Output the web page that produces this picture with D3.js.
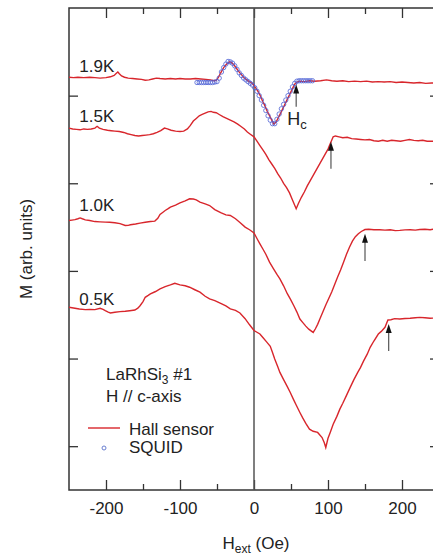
<!DOCTYPE html>
<html>
<head>
<meta charset="utf-8">
<script src="https://cdn.jsdelivr.net/npm/d3@7"></script>
<style>
  body { margin: 0; background: #fff; }
  svg text { font-family: "Liberation Sans", Arial, sans-serif; fill: #222; }
</style>
</head>
<body>
<svg id="chart" width="433" height="556"></svg>
<script>
// Hall sensor curves, [H (Oe), M (arb.)]
const hall19 = [[-250,5.21],[-244,5.205],[-238,5.21],[-230,5.205],[-222,5.21],[-215,5.205],[-208,5.2],[-200,5.205],[-194,5.215],[-189,5.23],[-186,5.255],[-184,5.27],[-182,5.25],[-179,5.225],[-175,5.21],[-170,5.2],[-164,5.195],[-158,5.19],[-152,5.185],[-147,5.175],[-142,5.18],[-137,5.19],[-132,5.2],[-127,5.195],[-120,5.19],[-113,5.195],[-106,5.19],[-100,5.195],[-93,5.19],[-86,5.19],[-79,5.195],[-72,5.19],[-65,5.185],[-59,5.18],[-54,5.17],[-51,5.175],[-48,5.21],[-45,5.26],[-41,5.32],[-37,5.36],[-33,5.385],[-30,5.375],[-27,5.35],[-24,5.315],[-21,5.28],[-17,5.24],[-13,5.2],[-9,5.175],[-5,5.155],[-2,5.135],[0,5.115],[3,5.08],[6,5.04],[9,4.99],[12,4.93],[15,4.88],[18,4.82],[21,4.77],[24,4.72],[27,4.675],[30,4.7],[33,4.75],[36,4.8],[40,4.87],[44,4.94],[48,5.01],[52,5.08],[55,5.13],[58,5.155],[62,5.165],[68,5.16],[75,5.17],[82,5.165],[90,5.17],[98,5.18],[105,5.17],[112,5.165],[120,5.17],[128,5.16],[136,5.165],[144,5.16],[152,5.165],[160,5.155],[168,5.16],[176,5.155],[184,5.16],[192,5.15],[200,5.155],[208,5.15],[216,5.145],[224,5.15],[232,5.14],[240,5.145],[250,5.14]];

const hall15 = [[-250,4.63],[-245,4.62],[-240,4.615],[-235,4.61],[-230,4.62],[-225,4.615],[-220,4.62],[-215,4.63],[-212,4.65],[-209,4.63],[-204,4.615],[-198,4.605],[-193,4.6],[-188,4.595],[-182,4.59],[-176,4.58],[-171,4.565],[-166,4.555],[-161,4.545],[-156,4.54],[-151,4.545],[-146,4.55],[-141,4.555],[-136,4.565],[-131,4.58],[-126,4.6],[-121,4.63],[-117,4.62],[-112,4.605],[-106,4.595],[-100,4.59],[-95,4.595],[-90,4.62],[-86,4.66],[-82,4.71],[-78,4.74],[-74,4.77],[-70,4.785],[-66,4.8],[-62,4.815],[-58,4.82],[-55,4.81],[-51,4.805],[-47,4.785],[-42,4.76],[-37,4.74],[-32,4.72],[-27,4.7],[-22,4.675],[-18,4.65],[-13,4.62],[-9,4.585],[-5,4.56],[0,4.53],[4,4.48],[8,4.43],[12,4.38],[16,4.33],[20,4.27],[24,4.22],[28,4.17],[32,4.11],[36,4.06],[40,4.0],[44,3.95],[48,3.89],[52,3.81],[55,3.75],[57,3.71],[60,3.77],[64,3.84],[68,3.9],[72,3.97],[76,4.03],[80,4.09],[84,4.15],[88,4.21],[92,4.27],[96,4.33],[100,4.39],[104,4.47],[107,4.53],[110,4.54],[115,4.53],[120,4.52],[126,4.525],[132,4.51],[138,4.505],[144,4.5],[150,4.495],[156,4.5],[162,4.485],[168,4.48],[174,4.49],[180,4.48],[186,4.49],[192,4.485],[198,4.48],[204,4.49],[210,4.5],[216,4.49],[222,4.485],[228,4.49],[234,4.48],[240,4.48],[250,4.475]];

const hall10 = [[-250,3.575],[-246,3.58],[-242,3.585],[-238,3.595],[-235,3.605],[-232,3.595],[-228,3.583],[-222,3.575],[-215,3.563],[-208,3.56],[-201,3.557],[-195,3.555],[-188,3.549],[-181,3.54],[-174,3.518],[-170,3.52],[-167,3.526],[-160,3.535],[-154,3.545],[-147,3.555],[-140,3.563],[-134,3.568],[-130,3.6],[-127,3.645],[-123,3.67],[-120,3.689],[-116,3.71],[-113,3.728],[-106,3.75],[-100,3.777],[-93,3.8],[-87,3.823],[-82,3.82],[-78,3.81],[-73,3.785],[-66,3.765],[-60,3.746],[-53,3.7],[-45,3.665],[-38,3.64],[-32,3.632],[-25,3.595],[-19,3.553],[-12,3.5],[-6,3.47],[0,3.434],[4,3.37],[8,3.309],[12,3.25],[16,3.19],[21,3.1],[26,3.03],[31,2.96],[35,2.909],[40,2.83],[45,2.74],[49,2.68],[54,2.6],[58,2.53],[62,2.451],[66,2.41],[70,2.37],[74,2.335],[78,2.31],[80,2.298],[83,2.34],[86,2.39],[89,2.451],[93,2.53],[97,2.61],[101,2.685],[105,2.76],[109,2.845],[113,2.93],[117,3.01],[121,3.1],[125,3.19],[129,3.27],[133,3.34],[137,3.39],[141,3.425],[145,3.45],[150,3.472],[155,3.475],[162,3.47],[170,3.469],[177,3.465],[184,3.47],[191,3.46],[197,3.462],[204,3.468],[211,3.47],[218,3.465],[224,3.472],[231,3.475],[238,3.47],[245,3.48],[250,3.475]];

const hall05 = [[-250,2.585],[-246,2.58],[-242,2.574],[-236,2.565],[-228,2.558],[-222,2.56],[-215,2.558],[-208,2.574],[-204,2.56],[-201,2.546],[-197,2.53],[-194,2.52],[-188,2.528],[-181,2.535],[-174,2.54],[-168,2.546],[-161,2.554],[-157,2.575],[-154,2.603],[-150,2.65],[-147,2.699],[-143,2.72],[-140,2.737],[-133,2.765],[-127,2.794],[-120,2.82],[-113,2.84],[-107,2.859],[-100,2.84],[-93,2.83],[-87,2.814],[-80,2.785],[-73,2.757],[-66,2.711],[-60,2.68],[-53,2.661],[-45,2.63],[-38,2.6],[-32,2.566],[-25,2.55],[-19,2.52],[-12,2.455],[-6,2.385],[0,2.32],[4,2.3],[8,2.28],[12,2.24],[17,2.19],[22,2.14],[25,2.07],[28,1.994],[32,1.91],[35,1.842],[40,1.76],[45,1.68],[49,1.613],[53,1.54],[57,1.47],[62,1.385],[66,1.32],[70,1.26],[75,1.194],[80,1.17],[86,1.157],[92,1.099],[95,1.04],[97,0.985],[100,1.09],[103,1.157],[107,1.25],[112,1.34],[116,1.423],[120,1.49],[125,1.58],[130,1.671],[135,1.76],[140,1.84],[144,1.899],[148,1.97],[153,2.05],[157,2.128],[162,2.2],[168,2.28],[172,2.31],[177,2.357],[181,2.44],[185,2.443],[190,2.455],[197,2.451],[204,2.457],[211,2.459],[218,2.466],[224,2.47],[231,2.465],[238,2.46],[245,2.462],[250,2.46]];

// SQUID points at 1.9K
const squid19 = [[-77,5.15],[-74,5.15],[-71,5.15],[-68,5.15],[-65,5.15],[-62,5.15],[-59,5.15],[-56,5.15],[-53,5.155],[-50,5.16],[-47,5.2],[-44,5.27],[-41,5.32],[-38,5.36],[-35,5.39],[-32,5.385],[-29,5.37],[-26,5.34],[-23,5.3],[-20,5.26],[-17,5.23],[-14,5.2],[-11,5.18],[-8,5.16],[-5,5.14],[-2,5.12],[1,5.09],[4,5.05],[7,5.0],[10,4.95],[13,4.89],[16,4.83],[19,4.77],[22,4.72],[25,4.68],[28,4.68],[31,4.73],[34,4.79],[37,4.85],[40,4.9],[43,4.95],[46,5.0],[49,5.05],[52,5.1],[55,5.14],[58,5.165],[61,5.17],[64,5.17],[67,5.17],[70,5.17],[73,5.17],[76,5.17],[79,5.17]];

const curveLabels = ["1.9K", "1.5K", "1.0K", "0.5K"];
const labelLevels = [5.27, 4.7, 3.68, 2.61];
// arrows marking Hc: field, tail M, tip M
const arrowField = [57, 104, 150, 182];
const arrowTail = [4.874, 4.166, 3.114, 2.086];
const arrowTip = [5.126, 4.474, 3.423, 2.394];

const xMajor = [-200, -100, 0, 100, 200];
const xMinor = [-150, -50, 50, 150];
const yTicks = [1, 2, 3, 4, 5];

const svg = d3.select("#chart");
const x = d3.scaleLinear().domain([-250, 250]).range([69, 439]);
const y = d3.scaleLinear().domain([0.5, 6.0]).range([490, 8]);

const red = "#d8262c";
const axisColor = "#333";

// ticks, all pointing inward
function ticks(axis, tx, ty, size, vals, labels) {
  const g = svg.append("g").attr("transform", `translate(${tx},${ty})`)
    .call(axis.tickValues(vals).tickSize(size).tickSizeOuter(0).tickPadding(12)
      .tickFormat(labels ? (d => String(d)) : ""));
  g.select(".domain").remove();
  g.selectAll("line").attr("stroke", axisColor).attr("stroke-width", 1.3);
  g.selectAll("text").style("font-size", "17px").attr("fill", "#222");
  return g;
}
ticks(d3.axisBottom(x), 0, 490, -10, xMajor, true);
ticks(d3.axisBottom(x), 0, 490, -6, xMinor, false);
ticks(d3.axisTop(x), 0, 8, -10, xMajor, false);
ticks(d3.axisTop(x), 0, 8, -6, xMinor, false);
ticks(d3.axisLeft(y), 69, 0, -9, yTicks, false);
ticks(d3.axisRight(y), 439, 0, -9, yTicks, false);

// frame
svg.append("rect")
  .attr("x", x(-250)).attr("y", y(6.0))
  .attr("width", x(250) - x(-250)).attr("height", y(0.5) - y(6.0))
  .attr("fill", "none").attr("stroke", axisColor).attr("stroke-width", 1.5);

// zero line
svg.append("line")
  .attr("x1", x(0)).attr("x2", x(0)).attr("y1", y(6.0)).attr("y2", y(0.5))
  .attr("stroke", "#555").attr("stroke-width", 1.5);

const line = d3.line().x(d => x(d[0])).y(d => y(d[1]));

[hall19, hall15, hall10, hall05].forEach(s => {
  svg.append("path").datum(s)
    .attr("d", line)
    .attr("fill", "none")
    .attr("stroke", red)
    .attr("stroke-width", 1.4);
});

svg.append("g").selectAll("circle")
  .data(squid19)
  .enter()
  .append("circle")
  .attr("cx", d => x(d[0]))
  .attr("cy", d => y(d[1]))
  .attr("r", 2.2)
  .attr("fill", "none")
  .attr("stroke", "#4f63d6")
  .attr("stroke-opacity", 0.8)
  .attr("stroke-width", 1);

// curve labels
svg.selectAll(".clabel")
  .data(curveLabels)
  .enter()
  .append("text")
  .attr("class", "clabel")
  .attr("x", x(-236))
  .attr("y", (d, i) => y(labelLevels[i]))
  .style("font-size", "17px")
  .text(d => d);

// arrows
arrowField.forEach((h, i) => {
  const ax = x(h), tip = y(arrowTip[i]), tail = y(arrowTail[i]);
  svg.append("line")
    .attr("x1", ax).attr("x2", ax).attr("y1", tail).attr("y2", tip + 6)
    .attr("stroke", "#555").attr("stroke-width", 1.2);
  svg.append("path")
    .attr("d", `M${ax},${tip} L${ax - 3},${tip + 9} L${ax + 3},${tip + 9} Z`)
    .attr("fill", "#111");
});

// Hc label
const hc = svg.append("text").attr("x", x(45)).attr("y", y(4.67)).style("font-size", "18px");
hc.append("tspan").text("H");
hc.append("tspan").attr("dy", 4).style("font-size", "13px").text("c");

// sample info + legend
const info = svg.append("text").attr("x", 106).attr("y", 380).style("font-size", "17px");
info.append("tspan").text("LaRhSi");
info.append("tspan").attr("dy", 4).style("font-size", "12px").text("3");
info.append("tspan").attr("dy", -4).text(" #1");
svg.append("text").attr("x", 106).attr("y", 402).style("font-size", "17px").text("H // c-axis");

svg.append("line").attr("x1", 88).attr("x2", 120).attr("y1", 428).attr("y2", 428)
  .attr("stroke", red).attr("stroke-width", 1.4);
svg.append("text").attr("x", 129).attr("y", 435).style("font-size", "17px").text("Hall sensor");
svg.append("circle").attr("cx", 104).attr("cy", 448).attr("r", 2)
  .attr("fill", "none").attr("stroke", "#6a7fd0").attr("stroke-width", 1);
svg.append("text").attr("x", 129).attr("y", 453).style("font-size", "17px").text("SQUID");

// axis titles
const xt = svg.append("text").attr("x", 256).attr("y", 549).attr("text-anchor", "middle").style("font-size", "17px");
xt.append("tspan").text("H");
xt.append("tspan").attr("dy", 4).style("font-size", "12px").text("ext");
xt.append("tspan").attr("dy", -4).text(" (Oe)");

svg.append("text")
  .attr("transform", "translate(32,249) rotate(-90)")
  .attr("text-anchor", "middle")
  .style("font-size", "17px")
  .text("M (arb. units)");
</script>
</body>
</html>
